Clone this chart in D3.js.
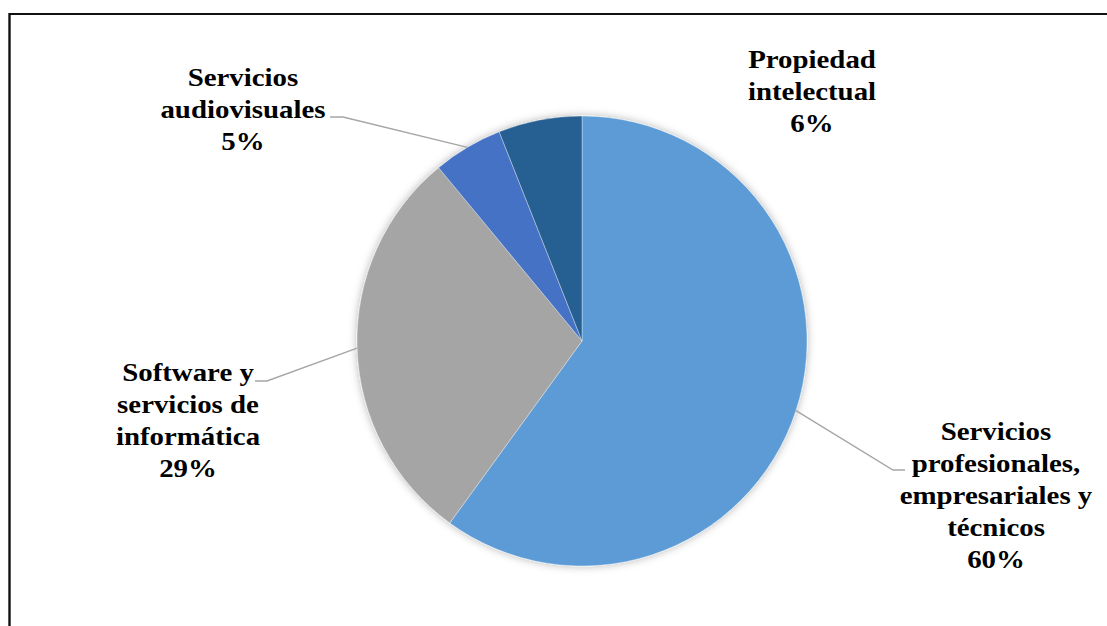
<!DOCTYPE html>
<html>
<head>
<meta charset="utf-8">
<script src="https://cdn.jsdelivr.net/npm/d3@7"></script>
<style>
  html, body { margin: 0; padding: 0; background: #fff; }
  svg { display: block; }
  .lbl { font-family: "Liberation Serif", "DejaVu Serif", serif; font-weight: bold; font-size: 26px; fill: #000; }
</style>
</head>
<body>
<svg id="chart" width="1107" height="626"></svg>
<script>
// Share of exported services by category (%)
const categories = [
  "Servicios profesionales, empresariales y técnicos",
  "Software y servicios de informática",
  "Servicios audiovisuales",
  "Propiedad intelectual"
];
const values = [60, 29, 5, 6];
const labelLines = [
  ["Servicios", "profesionales,", "empresariales y", "técnicos"],
  ["Software y", "servicios de", "informática"],
  ["Servicios", "audiovisuales"],
  ["Propiedad", "intelectual"]
];
const colors = ["#5B9BD5", "#A5A5A5", "#4472C4", "#255E91"];

const W = 1107, H = 626;
const cx = 582, cy = 341, R = 225;
const lineH = 32;
const textStretch = 1.11;

// Label placement: centre x, first baseline y, and optional leader elbow
const labelLayout = [
  { x: 996, y: 440, elbow: [893, 470], end: [905, 470] },
  { x: 188, y: 381, elbow: [267, 381], end: [255, 381] },
  { x: 243, y: 86,  elbow: [343, 117], end: [330, 117] },
  { x: 812, y: 68,  elbow: null, end: null }
];

const svg = d3.select("#chart");

// Outer frame (top and left edges)
svg.append("line").attr("x1", 9).attr("y1", 14).attr("x2", W).attr("y2", 14)
  .attr("stroke", "#111").attr("stroke-width", 2.2);
svg.append("line").attr("x1", 9.5).attr("y1", 13).attr("x2", 9.5).attr("y2", H)
  .attr("stroke", "#111").attr("stroke-width", 2.4);

const defs = svg.append("defs");
const f = defs.append("filter").attr("id", "shadow")
  .attr("x", "-20%").attr("y", "-20%").attr("width", "140%").attr("height", "140%");
f.append("feDropShadow").attr("dx", 0).attr("dy", 0).attr("stdDeviation", 4)
  .attr("flood-color", "#000").attr("flood-opacity", 0.3);

const pie = d3.pie().sort(null).value(d => d)(values);
const arc = d3.arc().innerRadius(0).outerRadius(R);

const g = svg.append("g").attr("transform", `translate(${cx},${cy})`);
g.append("g").attr("filter", "url(#shadow)")
  .selectAll("path").data(pie).join("path")
  .attr("d", arc)
  .attr("fill", (d, i) => colors[i])
  .attr("stroke", "#fff").attr("stroke-width", 0.6).attr("stroke-opacity", 0.6);

// Leader lines from slice edge to label
pie.forEach((d, i) => {
  const L = labelLayout[i];
  if (!L.elbow) return;
  const a = (d.startAngle + d.endAngle) / 2;
  const px = cx + R * Math.sin(a), py = cy - R * Math.cos(a);
  svg.append("polyline")
    .attr("points", [[px, py], L.elbow, L.end].map(p => p.join(",")).join(" "))
    .attr("fill", "none").attr("stroke", "#A6A6A6").attr("stroke-width", 1.4);
});

// Category labels with percentage on the last line
pie.forEach((d, i) => {
  const L = labelLayout[i];
  const lines = labelLines[i].concat([d3.format(".0f")(values[i]) + "%"]);
  const t = svg.append("text").attr("class", "lbl").attr("text-anchor", "middle")
    .attr("transform", `translate(${L.x},0) scale(${textStretch},1)`);
  lines.forEach((s, k) => {
    t.append("tspan").attr("x", 0).attr("y", L.y + k * lineH).text(s);
  });
});
</script>
</body>
</html>
